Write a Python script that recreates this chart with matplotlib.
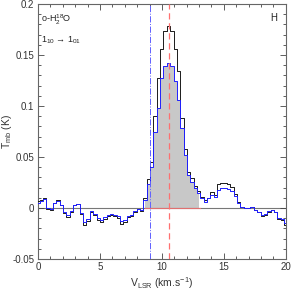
import matplotlib
matplotlib.use("Agg")
import matplotlib.pyplot as plt
import numpy as np
from matplotlib.ticker import MultipleLocator

plt.rcParams['font.family'] = ['Liberation Sans', 'DejaVu Sans']
plt.rcParams['mathtext.fontset'] = 'custom'
plt.rcParams['mathtext.rm'] = 'Liberation Sans'
plt.rcParams['mathtext.it'] = 'Liberation Sans'

# channel centres (km/s), width 0.27 km/s
v_start = 0.0
dv = 0.27

t_black = [0.007, 0.008, 0.010, -0.001, -0.002, 0.005, 0.008, 0.003, -0.005, -0.009,
           -0.004, 0.003, 0.004, -0.006, -0.017, -0.013, -0.004, -0.007, -0.012, -0.014,
           -0.011, -0.008, -0.007, -0.008, -0.010, -0.016, -0.014, -0.009, -0.008, -0.004,
           -0.001, -0.003, 0.010, 0.028, 0.045, 0.090, 0.128, 0.156, 0.174, 0.179,
           0.174, 0.156, 0.134, 0.088, 0.058, 0.035, 0.029, 0.022, 0.017, 0.011,
           0.008, 0.010, 0.016, 0.013, 0.024, 0.025, 0.025, 0.024, 0.021, 0.014,
           0.006, 0.001, 0.000, 0.000, 0.001, -0.002, -0.004, -0.008, -0.007, -0.004,
           -0.002, -0.004, -0.011, -0.012, -0.017]

t_blue = [0.005, 0.007, 0.009, 0.000, -0.001, 0.005, 0.007, 0.003, -0.004, -0.007,
          -0.003, 0.003, 0.004, -0.005, -0.014, -0.011, -0.003, -0.006, -0.010, -0.012,
          -0.009, -0.007, -0.006, -0.007, -0.008, -0.013, -0.012, -0.008, -0.007, -0.003,
          -0.001, -0.002, 0.008, 0.024, 0.040, 0.075, 0.098, 0.128, 0.139, 0.142,
          0.139, 0.125, 0.106, 0.078, 0.052, 0.032, 0.026, 0.020, 0.015, 0.010,
          0.006, 0.010, 0.013, 0.011, 0.018, 0.020, 0.020, 0.019, 0.017, 0.012,
          0.005, 0.001, 0.000, 0.000, 0.001, -0.002, -0.004, -0.007, -0.006, -0.003,
          -0.002, -0.004, -0.010, -0.011, -0.015]

v_blue_line = 9.0
v_red_line = 10.6
fill_range = (8.6, 13.05)

vel = v_start + dv * np.arange(len(t_black))
tb = np.array(t_black)
tu = np.array(t_blue)

fig = plt.figure(figsize=(2.92, 2.93), dpi=100)
ax = fig.add_axes([0.130, 0.116, 0.849, 0.870])

mask = (vel >= fill_range[0]) & (vel <= fill_range[1])
ax.fill_between(vel, 0, tu, where=mask, step='mid', color='#c8c8c8', lw=0, zorder=1)
ax.plot([fill_range[0], fill_range[1]], [0, 0], color='#e07070', lw=0.8, zorder=2)
ax.axhline(0, color='#777777', lw=0.8, zorder=1.5)
ax.step(vel, tb, where='mid', color='#1a1a1a', lw=0.7, zorder=3)
ax.step(vel, tu, where='mid', color='#2020ff', lw=0.7, zorder=4)
ax.axvline(v_blue_line, color='#6060ff', lw=0.7, ls='-.', zorder=5)
ax.axvline(v_red_line, color='#ff7070', lw=0.9, ls=(0, (5, 3)), zorder=5)

ax.set_xlim(0, 20)
ax.set_ylim(-0.05, 0.2)
ax.xaxis.set_major_locator(MultipleLocator(5))
ax.xaxis.set_minor_locator(MultipleLocator(1))
ax.yaxis.set_major_locator(MultipleLocator(0.05))
ax.yaxis.set_minor_locator(MultipleLocator(0.01))
ax.set_yticks([-0.05, 0, 0.05, 0.1, 0.15, 0.2])
ax.set_yticklabels(['-0.05', '0', '0.05', '0.1', '0.15', '0.2'])
ax.tick_params(which='both', direction='in', top=True, right=True, labelsize=7,
               colors='#444444', labelcolor='#333333', width=0.6)
ax.tick_params(which='major', length=4, pad=2.5)
ax.tick_params(which='minor', length=2)
for s in ax.spines.values():
    s.set_color('#666666')
    s.set_linewidth(0.8)

ax.set_xlabel('V$_{\\mathregular{LSR}}$ (km.s$^{-1}$)', fontsize=7.5, color='#333333', labelpad=2)
ax.set_ylabel('T$_{\\mathregular{mb}}$ (K)', fontsize=7.5, color='#333333')
ax.yaxis.set_label_coords(-0.098, 0.5)

ax.text(0.012, 0.965, 'o-H$_2^{18}$O', transform=ax.transAxes, fontsize=6.5,
        va='top', ha='left', color='#222222')
ax.text(0.012, 0.88, '1$_{10}$ \u2192 1$_{01}$', transform=ax.transAxes, fontsize=6.5,
        va='top', ha='left', color='#222222')
ax.text(0.965, 0.965, 'H', transform=ax.transAxes, fontsize=7, va='top', ha='right',
        color='#222222')

fig.savefig('out.png', dpi=100)
